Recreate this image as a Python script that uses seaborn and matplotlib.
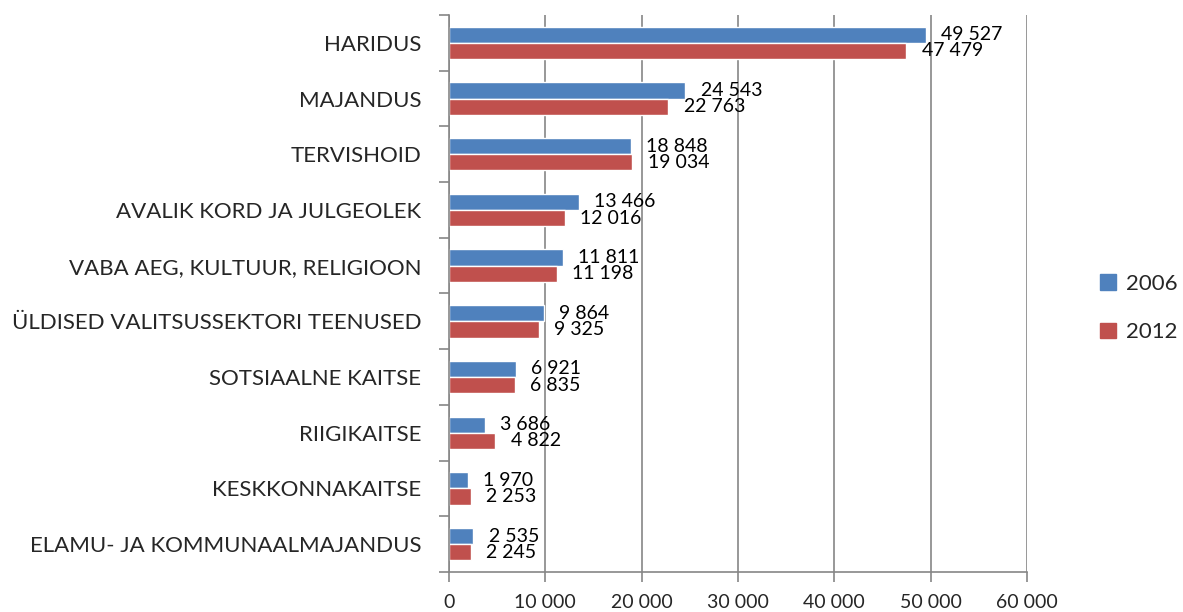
import numpy as np
import pandas as pd
import matplotlib.pyplot as plt
import seaborn as sns
from matplotlib.patches import Patch

sns.set_theme(style="white")
plt.rcParams['font.family'] = ['Lato', 'DejaVu Sans']

categories = ["HARIDUS", "MAJANDUS", "TERVISHOID", "AVALIK KORD JA JULGEOLEK",
              "VABA AEG, KULTUUR, RELIGIOON", "ÜLDISED VALITSUSSEKTORI TEENUSED",
              "SOTSIAALNE KAITSE", "RIIGIKAITSE", "KESKKONNAKAITSE",
              "ELAMU- JA KOMMUNAALMAJANDUS"]
years = ["2006", "2012"]
values_2006 = [49527, 24543, 18848, 13466, 11811, 9864, 6921, 3686, 1970, 2535]
values_2012 = [47479, 22763, 19034, 12016, 11198, 9325, 6835, 4822, 2253, 2245]
xticks = [0, 10000, 20000, 30000, 40000, 50000, 60000]

colors = {"2006": "#4F81BD", "2012": "#C0504D"}

df = pd.DataFrame({
    "category": categories * 2,
    "year": ["2006"] * len(categories) + ["2012"] * len(categories),
    "value": values_2006 + values_2012,
})

def fmt(v):
    return f"{v:,}".replace(",", " ")

fig = plt.figure(figsize=(11.83, 6.12), dpi=100)
ax = fig.add_axes([449 / 1183, 1 - 572 / 612, (1027 - 449) / 1183, (572 - 15) / 612])

sns.barplot(data=df, y="category", x="value", hue="year", order=categories,
            hue_order=years, palette=colors, orient="h", width=0.58,
            ax=ax, legend=False, saturation=1)

for cont in ax.containers:
    ax.bar_label(cont, labels=[fmt(int(b.get_width())) for b in cont],
                 padding=11, fontsize=14, color="black")

ax.set_xlim(0, 60000)
ax.set_ylim(len(categories) - 0.5, -0.5)
ax.set_xticks(xticks)
ax.set_xticklabels([fmt(t) for t in xticks], fontsize=14)
ax.set_xlabel("")
ax.set_ylabel("")
ax.tick_params(axis="y", labelsize=16, length=0, pad=20)
ax.set_yticks(np.arange(len(categories) + 1) - 0.5, minor=True)
ax.tick_params(axis="y", which="minor", length=7, width=1.2, color="#868686", direction="out", left=True)
ax.tick_params(axis="x", length=7, width=1.2, color="#868686", direction="out", pad=9, bottom=True)

ax.grid(axis="x", color="#868686", linewidth=1.2)
ax.set_axisbelow(True)
for s in ["top", "right"]:
    ax.spines[s].set_visible(False)
for s in ["left", "bottom"]:
    ax.spines[s].set_color("#868686")
    ax.spines[s].set_linewidth(1.2)

handles = [Patch(facecolor=colors[y], edgecolor=colors[y]) for y in years]
fig.legend(handles, years, loc="center left", bbox_to_anchor=(1100 / 1183, 1 - 308 / 612),
           frameon=False, fontsize=16, handlelength=0.7, handleheight=0.7,
           labelspacing=1.3, handletextpad=0.45, borderpad=0, borderaxespad=0)

fig.savefig("out.png", dpi=100)
